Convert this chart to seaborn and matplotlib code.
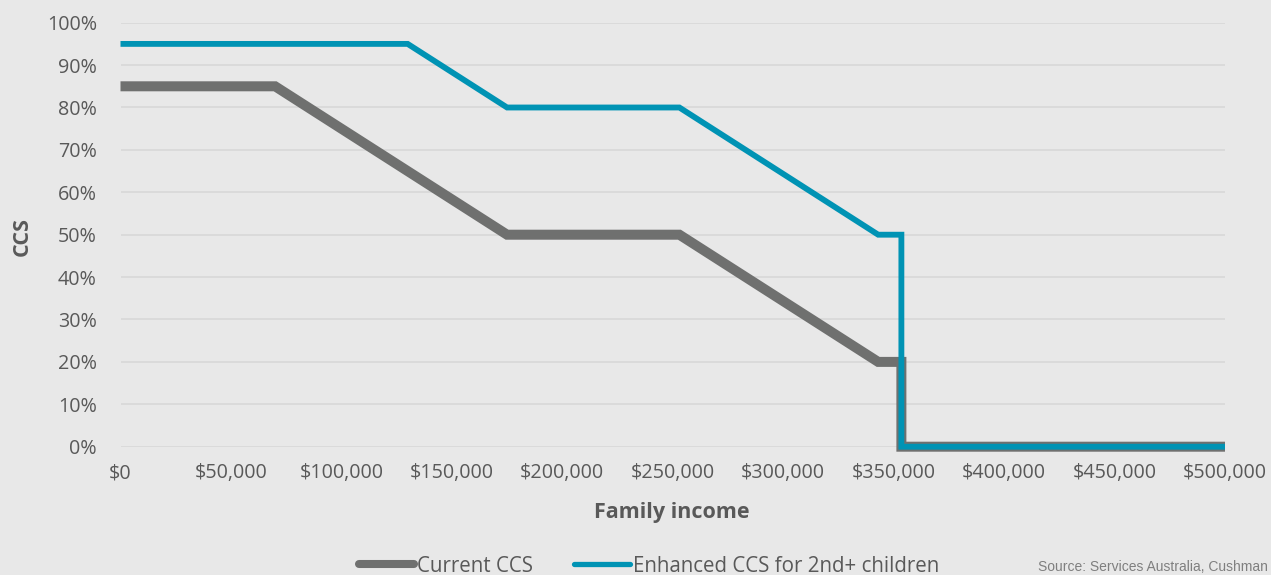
import matplotlib
matplotlib.use("Agg")
import matplotlib.pyplot as plt
import pandas as pd
import seaborn as sns
from matplotlib.ticker import FuncFormatter, FixedLocator

# ---- data ----
series_names = ["Current CCS", "Enhanced CCS for 2nd+ children"]
income_current = [0, 70000, 175000, 253000, 343000, 353500, 353500, 500000]
ccs_current = [0.85, 0.85, 0.50, 0.50, 0.20, 0.20, 0.0, 0.0]
income_enhanced = [0, 130000, 175000, 253000, 343000, 353500, 353500, 500000]
ccs_enhanced = [0.95, 0.95, 0.80, 0.80, 0.50, 0.50, 0.0, 0.0]
x_ticks = [0, 50000, 100000, 150000, 200000, 250000, 300000, 350000, 400000, 450000, 500000]
y_ticks = [0.0, 0.1, 0.2, 0.3, 0.4, 0.5, 0.6, 0.7, 0.8, 0.9, 1.0]
x_label = "Family income"
y_label = "CCS"
source_text = "Source: Services Australia, Cushman"

BG = "#e8e8e8"
GRID = "#d9d9d9"
TXT = "#595959"
GRAY = "#6f706f"
TEAL = "#0093b4"

sns.set_theme(style="white")
plt.rcParams["font.family"] = ["Open Sans", "DejaVu Sans"]

W, H = 1271, 575
fig = plt.figure(figsize=(W / 100, H / 100), dpi=100, facecolor=BG)
ax = fig.add_axes([120.5 / W, 1 - 446.7 / H, 1104.5 / W, 424 / H])
ax.set_facecolor(BG)

df_cur = pd.DataFrame({"income": income_current, "ccs": ccs_current})
df_enh = pd.DataFrame({"income": income_enhanced, "ccs": ccs_enhanced})

sns.lineplot(data=df_cur, x="income", y="ccs", sort=False, estimator=None,
             color=GRAY, linewidth=7.2, ax=ax, label=series_names[0],
             clip_on=False, solid_joinstyle="miter", solid_capstyle="butt", zorder=3)
sns.lineplot(data=df_enh, x="income", y="ccs", sort=False, estimator=None,
             color=TEAL, linewidth=4.2, ax=ax, label=series_names[1],
             clip_on=False, solid_joinstyle="miter", solid_capstyle="butt", zorder=4)

ax.set_xlim(0, 500000)
ax.set_ylim(0, 1)
ax.xaxis.set_major_locator(FixedLocator(x_ticks))
ax.yaxis.set_major_locator(FixedLocator(y_ticks))
ax.xaxis.set_major_formatter(FuncFormatter(lambda v, p: f"${v:,.0f}"))
ax.yaxis.set_major_formatter(FuncFormatter(lambda v, p: f"{v * 100:.0f}%"))
ax.grid(axis="y", color=GRID, linewidth=1.3)
ax.grid(axis="x", visible=False)
ax.set_axisbelow(True)
for s in ax.spines.values():
    s.set_visible(False)
ax.tick_params(axis="y", length=0, pad=17, labelsize=14.2, labelcolor=TXT)
ax.tick_params(axis="x", length=0, pad=12, labelsize=14.2, labelcolor=TXT)
ax.set_xlabel("")
ax.set_ylabel("")

fig.text(672 / W, 1 - 518 / H, x_label, ha="center", va="baseline",
         fontsize=15.5, fontweight="bold", color=TXT)
fig.text(22 / W, 1 - 236.5 / H, y_label, ha="center", va="center",
         rotation=90, fontsize=15.5, fontweight="bold", color=TXT)

handles, labels = ax.get_legend_handles_labels()
ax.get_legend().remove()
leg = fig.legend(handles, labels, loc="center", bbox_to_anchor=(649 / W, 1 - 566 / H),
                 ncol=2, frameon=False, fontsize=14.8, labelcolor=TXT,
                 handlelength=2.7, handletextpad=0.15, columnspacing=2.0,
                 borderpad=0, borderaxespad=0)
for ln, lw in zip(leg.get_lines(), [5.8, 3.8]):
    ln.set_solid_capstyle("round")
    ln.set_linewidth(lw)

fig.text(1268 / W, 1 - 574 / H, source_text, ha="right", va="bottom",
         fontsize=10, color="#7f7f7f", family=["Liberation Sans", "DejaVu Sans"])

fig.savefig("out.png", dpi=100, facecolor=BG)
